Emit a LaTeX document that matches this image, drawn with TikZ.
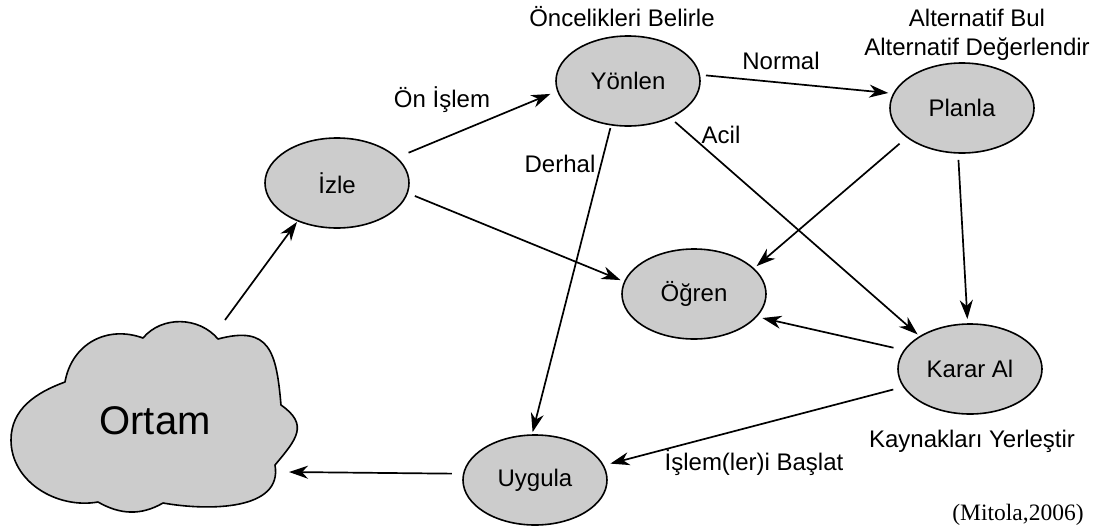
\documentclass[tikz,border=0pt]{standalone}
\usepackage{fontspec}
\setmainfont{Liberation Sans}
\newfontfamily\citefont{Liberation Serif}
\usetikzlibrary{arrows.meta,shapes.geometric}
\definecolor{bubblefill}{RGB}{204,204,204}
\tikzset{
  stage/.style={ellipse, draw=black, line width=1.6pt, fill=bubblefill,
    minimum width=144pt, minimum height=90pt, inner sep=0pt, outer sep=0pt,
    font=\fontsize{24pt}{28pt}\selectfont},
  lbl/.style={inner sep=0pt, font=\fontsize{24pt}{28pt}\selectfont},
  conn/.style={draw=black, line width=1.7pt,
    -{Stealth[length=19pt,width=13pt,inset=6pt]}},
  cloudshape/.style={draw=black, line width=1.6pt, fill=bubblefill, line join=round}
}
\begin{document}
\begin{tikzpicture}[x=1pt,y=1pt]
\useasboundingbox (0,0) rectangle (1103,-530);

% environment cloud
\path[cloudshape] (143,-338) to[out=50,in=130] (218,-339)
  to[out=15,in=95,looseness=1.5] (281,-405)
  to[out=-35,in=50,looseness=1.45] (275,-465)
  to[out=-80,in=-10] (163,-503)
  to[out=-150,in=-30] (98,-502)
  to[out=190,in=-90] (11,-440)
  to[out=90,in=-160] (65,-382)
  to[out=80,in=160,looseness=1.1] (143,-338) -- cycle;
\node[inner sep=0pt, font=\fontsize{40pt}{46pt}\selectfont] (ortam) at (155,-421) {Ortam};
\coordinate (ortamtop) at (225,-320);
\coordinate (ortamright) at (289,-472);

% cycle stages
\node[stage] (izle)  at (337,-183) {İzle};
\node[stage] (yon)   at (628,-81)  {Yönlen};
\node[stage] (plan)  at (962,-108) {Planla};
\node[stage] (ogr)   at (694,-294) {Öğren};
\node[stage] (karar) at (970,-369) {Karar Al};
\node[stage] (uyg)   at (535,-480) {Uygula};

% annotations
\node[lbl, anchor=base] (oncelik) at (622,-27) {Öncelikleri Belirle};
\node[lbl, anchor=base] (altbul) at (977,-27) {Alternatif Bul};
\node[lbl, anchor=base] (altdeg) at (977,-55) {Alternatif Değerlendir};
\node[lbl, anchor=base] (kaynak) at (972,-447) {Kaynakları Yerleştir};
\node[lbl, anchor=base] (onislem) at (442,-107) {Ön İşlem};
\node[lbl, anchor=base] (normal) at (781,-69) {Normal};
\node[lbl, anchor=base] (acil) at (721,-143) {Acil};
\node[lbl, anchor=base] (derhal) at (560,-172) {Derhal};
\node[lbl, anchor=base] (baslat) at (754,-470) {İşlem(ler)i Başlat};
\node[inner sep=0pt, anchor=base, font=\citefont\fontsize{23.5pt}{28pt}\selectfont] (kaynakca) at (1018,-520) {(Mitola,2006)};

% transitions
\draw[conn, shorten >=1.5pt] (ortamtop) -- (izle.-136);
\draw[conn, shorten <=13pt, shorten >=8pt] (izle.23.6) -- (yon.188.7);
\draw[conn, shorten <=6.7pt, shorten >=5.6pt] (yon.5.1) -- (plan.168.5);
\draw[conn, shorten <=6.8pt, shorten >=3.3pt] (yon.-41.1) -- (karar.147.3);
\draw[conn, shorten <=3.4pt, shorten >=3pt] (yon.-111) -- (uyg.94.8);
\draw[conn, shorten <=8.2pt, shorten >=4.5pt] (izle.-8.7) -- (ogr.170.8);
\draw[conn, shorten <=10pt, shorten >=4pt] (plan.-152) -- (ogr.23.2);
\draw[conn, shorten <=7pt, shorten >=5pt] (plan.-95.5) -- (karar.93.4);
\draw[conn, shorten <=11.4pt, shorten >=6.3pt] (karar.164.7) -- (ogr.-20.2);
\draw[conn, shorten <=10.9pt, shorten >=7.5pt] (karar.-165.4) -- (uyg.12.8);
\draw[conn, shorten <=11.9pt] (uyg.175.2) -- (ortamright);
\end{tikzpicture}
\end{document}
